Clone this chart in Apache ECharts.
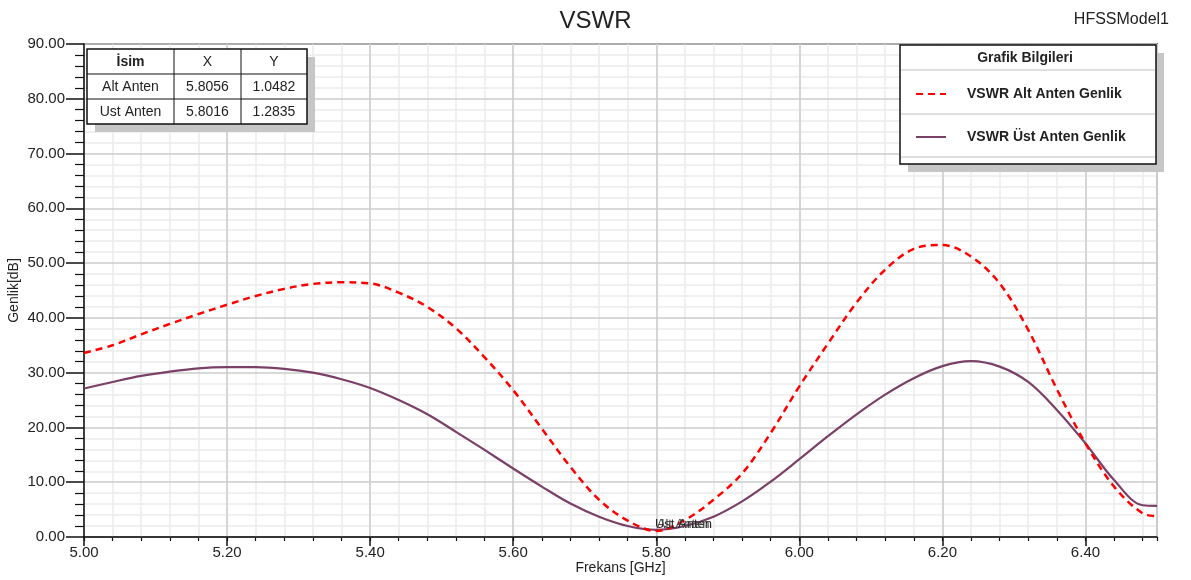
<!DOCTYPE html>
<html>
<head>
	<meta charset="utf-8">
	<title>VSWR</title>
	<script src="https://cdn.jsdelivr.net/npm/echarts@6/dist/echarts.min.js"></script>
	<style>
		html, body { margin: 0; padding: 0; background: #fff; }
		#chart { width: 1191px; height: 580px; }
	</style>
</head>
<body>
<div id="chart"></div>
<script>
	// frekans noktalari (GHz)
	var frekans = [5.00, 5.04, 5.08, 5.12, 5.16, 5.20, 5.24, 5.28, 5.32, 5.36,
		5.40, 5.44, 5.48, 5.52, 5.56, 5.60, 5.64, 5.68, 5.72, 5.76,
		5.80, 5.84, 5.88, 5.92, 5.96, 6.00, 6.04, 6.08, 6.12, 6.16,
		6.20, 6.24, 6.28, 6.32, 6.36, 6.40, 6.44, 6.48, 6.50];

	// VSWR Alt Anten Genlik
	var altAnten = [33.6, 35.0, 37.0, 38.9, 40.7, 42.4, 44.0, 45.3, 46.2, 46.5,
		46.3, 44.6, 42.0, 38.1, 32.8, 26.8, 19.8, 12.8, 6.8, 3.0,
		1.1, 3.1, 6.8, 11.6, 19.0, 27.5, 35.3, 42.8, 48.8, 52.6,
		53.3, 51.2, 46.3, 37.8, 27.0, 17.1, 9.2, 4.3, 3.8];

	// VSWR Ust Anten Genlik
	var ustAnten = [27.1, 28.3, 29.4, 30.2, 30.8, 31.0, 31.0, 30.7, 30.0, 28.8,
		27.2, 25.0, 22.4, 19.2, 15.9, 12.5, 9.2, 6.1, 3.7, 2.0,
		1.3, 2.0, 3.7, 6.5, 10.1, 14.2, 18.4, 22.4, 26.0, 29.0,
		31.2, 32.1, 31.1, 28.3, 23.2, 17.1, 10.4, 5.8, 5.7];

	// marker tablosu
	var markerAd = ['Alt Anten', 'Ust Anten'];
	var markerX = [5.8056, 5.8016];
	var markerY = [1.0482, 1.2835];

	var fontAile = '"Liberation Sans", Arial, sans-serif';

	function pairs(xs, ys) {
		var out = [];
		for (var i = 0; i < xs.length; i++) out.push([xs[i], ys[i]]);
		return out;
	}

	// tablo (sol ust)
	var tablo = [];
	var tx = 87, ty = 49, colW = [87, 67, 66], rowH = 25;
	tablo.push({ type: 'rect', shape: { x: tx + 8, y: ty + 8, width: 220, height: 75 }, style: { fill: '#c6c6c6' }, z: 100 });
	tablo.push({ type: 'rect', shape: { x: tx, y: ty, width: 220, height: 75 }, style: { fill: '#fff', stroke: '#111', lineWidth: 1.5 }, z: 101 });
	var satirlar = [['İsim', 'X', 'Y']];
	for (var i = 0; i < markerAd.length; i++) {
		satirlar.push([markerAd[i], markerX[i].toFixed(4), markerY[i].toFixed(4)]);
	}
	for (var r = 0; r < satirlar.length; r++) {
		var cx = tx;
		for (var c = 0; c < 3; c++) {
			tablo.push({
				type: 'text', z: 103,
				style: {
					text: satirlar[r][c], x: cx + colW[c] / 2, y: ty + r * rowH + rowH / 2 + 0.5,
					align: 'center', verticalAlign: 'middle', fill: '#222',
					font: (r === 0 && c === 0 ? 'bold 14px ' : '14px ') + fontAile
				}
			});
			cx += colW[c];
		}
		if (r > 0) {
			tablo.push({ type: 'line', z: 102, shape: { x1: tx, y1: ty + r * rowH, x2: tx + 220, y2: ty + r * rowH }, style: { stroke: '#111', lineWidth: 1 } });
		}
	}
	tablo.push({ type: 'line', z: 102, shape: { x1: tx + 87, y1: ty, x2: tx + 87, y2: ty + 75 }, style: { stroke: '#111', lineWidth: 1 } });
	tablo.push({ type: 'line', z: 102, shape: { x1: tx + 154, y1: ty, x2: tx + 154, y2: ty + 75 }, style: { stroke: '#111', lineWidth: 1 } });

	// lejant kutusu (sag ust)
	var kutu = [
		{ type: 'rect', z: 100, shape: { x: 908, y: 53, width: 256, height: 119 }, style: { fill: '#c6c6c6' } },
		{ type: 'rect', z: 101, shape: { x: 900, y: 45, width: 256, height: 119 }, style: { fill: '#fff', stroke: '#111', lineWidth: 1.5 } },
		{ type: 'line', z: 102, shape: { x1: 901, y1: 70, x2: 1155, y2: 70 }, style: { stroke: '#d4d4d4', lineWidth: 1.5 } },
		{ type: 'line', z: 102, shape: { x1: 901, y1: 114, x2: 1155, y2: 114 }, style: { stroke: '#d4d4d4', lineWidth: 1.5 } },
		{ type: 'line', z: 102, shape: { x1: 901, y1: 157, x2: 1155, y2: 157 }, style: { stroke: '#d4d4d4', lineWidth: 1.5 } },
		{ type: 'text', z: 103, style: { text: 'Grafik Bilgileri', x: 1025, y: 58, align: 'center', verticalAlign: 'middle', fill: '#222', font: 'bold 14px ' + fontAile } }
	];

	var myChart = echarts.init(document.getElementById('chart'));
	var option = {
		animation: false,
		textStyle: { fontFamily: fontAile },
		title: [
			{ text: 'VSWR', left: 'center', top: 4, textStyle: { fontSize: 24, fontWeight: 'normal', color: '#222' } },
			{ text: 'HFSSModel1', right: 17, top: 7, textStyle: { fontSize: 16, fontWeight: 'normal', color: '#222' } }
		],
		grid: { left: 84, right: 34, top: 44, bottom: 43, show: true, borderColor: '#111', borderWidth: 1.5, outerBoundsMode: 'none' },
		legend: {
			orient: 'vertical', left: 910, top: 82, itemGap: 29, itemWidth: 30, itemHeight: 14, z: 120,
			data: ['VSWR Alt Anten Genlik', 'VSWR Üst Anten Genlik'],
			itemStyle: { opacity: 0 },
			textStyle: { fontSize: 14, fontWeight: 'bold', color: '#222', padding: [0, 0, 0, 16] }
		},
		xAxis: [
			{
				type: 'value', min: 5, max: 6.5, interval: 0.2, position: 'bottom', z: 2,
				name: 'Frekans [GHz]', nameLocation: 'middle', nameGap: 24, nameMoveOverlap: false,
				nameTextStyle: { fontSize: 14, color: '#222' },
				axisLine: { lineStyle: { color: '#111', width: 1.5 } },
				axisTick: { length: 9, lineStyle: { color: '#111', width: 1.5 } },
				axisLabel: { fontSize: 15, color: '#222', margin: 8, showMaxLabel: false,
					formatter: function (v) { return v.toFixed(2); } },
				splitLine: { show: true, lineStyle: { color: '#cdcdcd', width: 1.5 } }
			},
			{
				// ara cizgiler
				type: 'value', min: 5, max: 6.5, interval: 0.04, position: 'bottom', z: 1,
				axisLine: { show: false },
				axisTick: { length: 4, lineStyle: { color: '#111', width: 1.2 } },
				axisLabel: { show: false },
				splitLine: { show: true, lineStyle: { color: '#ebebeb', width: 1.5 } }
			}
		],
		yAxis: {
			type: 'value', min: 0, max: 90, interval: 10, z: 2,
			name: 'Genlik[dB]', nameLocation: 'middle', nameGap: 63, nameMoveOverlap: false,
			nameTextStyle: { fontSize: 14, color: '#222' },
			axisLine: { show: true, lineStyle: { color: '#111', width: 1.5 } },
			axisTick: { length: 18, lineStyle: { color: '#111', width: 1.5 } },
			minorTick: { show: true, splitNumber: 5, length: 9, lineStyle: { color: '#111', width: 1.2 } },
			axisLabel: { fontSize: 15, color: '#222', margin: 19,
				formatter: function (v) { return v.toFixed(2); } },
			splitLine: { show: true, lineStyle: { color: '#cdcdcd', width: 1.5 } },
			minorSplitLine: { show: true, lineStyle: { color: '#ebebeb', width: 1.5 } }
		},
		graphic: tablo.concat(kutu),
		series: [
			{
				name: 'VSWR Üst Anten Genlik', type: 'line', smooth: 0.35, symbol: 'none', z: 2,
				lineStyle: { color: '#7a4068', width: 2.2 },
				itemStyle: { color: '#7a4068' },
				data: pairs(frekans, ustAnten),
				markPoint: {
					symbol: 'circle', symbolSize: 1,
					itemStyle: { color: '#7a4068' },
					label: { show: true, position: 'right', distance: 0, offset: [-3, -6], color: '#222', fontSize: 13, formatter: markerAd[1] },
					data: [{ coord: [markerX[1], markerY[1]] }]
				}
			},
			{
				name: 'VSWR Alt Anten Genlik', type: 'line', smooth: 0.35, symbol: 'none', z: 3,
				lineStyle: { color: '#ff0000', width: 2.5, type: [7, 5] },
				itemStyle: { color: '#ff0000' },
				data: pairs(frekans, altAnten),
				markPoint: {
					symbol: 'circle', symbolSize: 1,
					itemStyle: { color: '#ff0000' },
					label: { show: true, position: 'right', distance: 0, offset: [-4, -7], color: '#444', fontSize: 13, formatter: markerAd[0] },
					data: [{ coord: [markerX[0], markerY[0]] }]
				}
			}
		]
	};
	myChart.setOption(option);
</script>
</body>
</html>
